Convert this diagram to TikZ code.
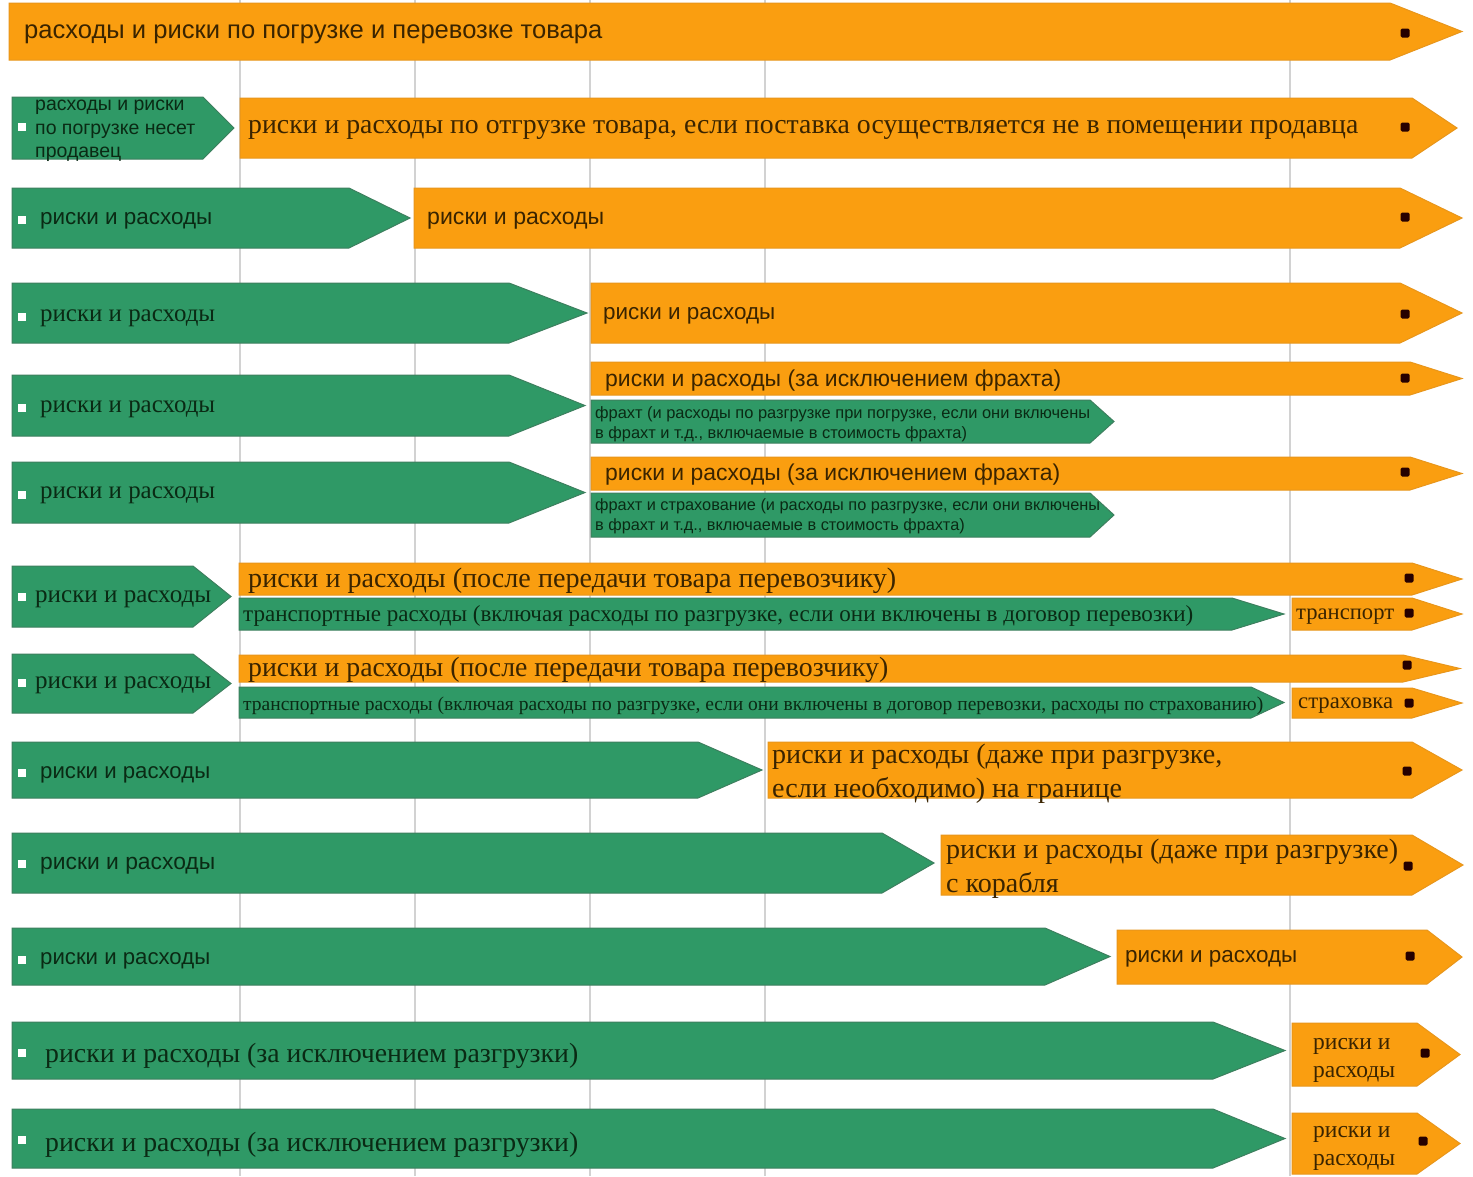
\documentclass[tikz,border=0pt]{standalone}
\usepackage{fontspec}
\setmainfont{Liberation Serif}
\setsansfont{Liberation Sans}
\usepackage{graphicx}
\definecolor{orfill}{HTML}{FA9E10}
\definecolor{orline}{HTML}{E8961C}
\definecolor{grfill}{HTML}{2F9966}
\definecolor{grline}{HTML}{3D7F5E}
\definecolor{ortext}{HTML}{3A2400}
\definecolor{grtext}{HTML}{0A2A14}
\tikzset{
  orbox/.style={fill=orfill,draw=orline,line width=1pt},
  grbox/.style={fill=grfill,draw=grline,line width=1pt},
  gridln/.style={draw=gray!35,line width=1.5pt},
  dotmark/.style={fill=black!85!red,rounded corners=1.5pt},
  bullet/.style={fill=white},
}
% #1 style, #2 left x, #3 top y, #4 bottom y, #5 body end x, #6 tip x
\newcommand\Arw[6]{\filldraw[#1] (#2,#3) -- (#5,#3) -- (#6,{(#3+#4)/2}) -- (#5,#4) -- (#2,#4) -- cycle;}
% #1 name, #2 x, #3 y, #4 width, #5 colour, #6 font, #7 text
\newcommand\Txt[7]{\node[anchor=west,inner sep=0pt,yshift=-2.5pt,text=#5,font=#6] (#1) at (#2,#3) {\resizebox{#4pt}{!}{#7}};}
\newcommand\Two[2]{\begin{tabular}{@{}l@{}}#1\\#2\end{tabular}}
\newcommand\Three[3]{\begin{tabular}{@{}l@{}}#1\\#2\\#3\end{tabular}}
\newcommand\Dot[2]{\fill[dotmark] ({#1-4.5},{#2-4.5}) rectangle ({#1+4.5},{#2+4.5});}
\newcommand\Bul[1]{\fill[bullet] (18,{#1-4}) rectangle (26,{#1+4});}
\begin{document}
\begin{tikzpicture}[x=1pt,y=-1pt]
\useasboundingbox (0,0) rectangle (1473,1176);
\fill[white] (0,0) rectangle (1473,1176);
% grid lines
\foreach \gx in {240,415,590,765,1290} {\draw[gridln] (\gx,0) -- (\gx,1176);}
% Row 1
\Arw{orbox}{9}{3}{60}{1390}{1462}
\Txt{t1}{24}{32}{578}{ortext}{\sffamily}{расходы и риски по погрузке и перевозке товара}
\Dot{1405}{33}
% Row 2
\Arw{grbox}{12}{97}{159}{203}{234}
\Txt{t2g}{35}{127}{160}{grtext}{\sffamily}{\Three{расходы и риски}{по погрузке несет}{продавец}}
\Bul{127}
\Arw{orbox}{240}{98}{158}{1412}{1457}
\Txt{t2o}{248}{127}{1110}{ortext}{\rmfamily}{риски и расходы по отгрузке товара, если поставка осуществляется не в помещении продавца}
\Dot{1405}{127}
% Row 3
\Arw{grbox}{12}{188}{248}{349}{410}
\Txt{t3g}{40}{218}{172}{grtext}{\sffamily}{риски и расходы}
\Bul{220}
\Arw{orbox}{414}{188}{248}{1400}{1462}
\Txt{t3o}{427}{218}{177}{ortext}{\sffamily}{риски и расходы}
\Dot{1405}{217}
% Row 4
\Arw{grbox}{12}{283}{343}{509}{587}
\Txt{t4g}{40}{316}{175}{grtext}{\rmfamily}{риски и расходы}
\Bul{317}
\Arw{orbox}{591}{283}{343}{1400}{1462}
\Txt{t4o}{603}{313}{172}{ortext}{\sffamily}{риски и расходы}
\Dot{1405}{314}
% Row 5
\Arw{grbox}{12}{375}{436}{509}{585}
\Txt{t5g}{40}{407}{175}{grtext}{\rmfamily}{риски и расходы}
\Bul{408}
\Arw{orbox}{591}{362}{395}{1410}{1462}
\Txt{t5o}{605}{378}{456}{ortext}{\sffamily}{риски и расходы (за исключением фрахта)}
\Dot{1405}{378}
\Arw{grbox}{591}{400}{443}{1090}{1114}
\Txt{t5s}{595}{422}{495}{grtext}{\sffamily}{\Two{фрахт (и расходы по разгрузке при погрузке, если они включены}{в фрахт и т.д., включаемые в стоимость фрахта)}}
% Row 6
\Arw{grbox}{12}{462}{523}{509}{585}
\Txt{t6g}{40}{493}{175}{grtext}{\rmfamily}{риски и расходы}
\Bul{495}
\Arw{orbox}{591}{457}{490}{1410}{1462}
\Txt{t6o}{605}{472}{455}{ortext}{\sffamily}{риски и расходы (за исключением фрахта)}
\Dot{1405}{472}
\Arw{grbox}{591}{493}{537}{1090}{1114}
\Txt{t6s}{595}{514}{505}{grtext}{\sffamily}{\Two{фрахт и страхование (и расходы по разгрузке, если они включены}{в фрахт и т.д., включаемые в стоимость фрахта)}}
% Row 7
\Arw{grbox}{12}{566}{627}{193}{231}
\Txt{t7g}{35}{597}{176}{grtext}{\rmfamily}{риски и расходы}
\Bul{597}
\Arw{orbox}{239}{563}{595}{1412}{1462}
\Txt{t7o}{248}{578}{648}{ortext}{\rmfamily}{риски и расходы (после передачи товара перевозчику)}
\Dot{1409}{578}
\Arw{grbox}{239}{598}{630}{1232}{1284}
\Txt{t7l}{243}{613}{950}{grtext}{\rmfamily}{транспортные расходы (включая расходы по разгрузке, если они включены в договор перевозки)}
\Arw{orbox}{1292}{598}{630}{1412}{1462}
\Txt{t7s}{1296}{614}{98}{ortext}{\rmfamily}{транспорт}
\Dot{1409}{613}
% Row 8
\Arw{grbox}{12}{654}{713}{193}{231}
\Txt{t8g}{35}{683}{176}{grtext}{\rmfamily}{риски и расходы}
\Bul{683}
\Arw{orbox}{239}{655}{682}{1403}{1460}
\Txt{t8o}{248}{667}{640}{ortext}{\rmfamily}{риски и расходы (после передачи товара перевозчику)}
\Dot{1407}{665}
\Arw{grbox}{239}{687}{718}{1251}{1284}
\Txt{t8l}{243}{703}{1020}{grtext}{\rmfamily}{транспортные расходы (включая расходы по разгрузке, если они включены в договор перевозки, расходы по страхованию)}
\Arw{orbox}{1292}{688}{718}{1412}{1462}
\Txt{t8s}{1298}{703}{95}{ortext}{\rmfamily}{страховка}
\Dot{1409}{703}
% Row 9
\Arw{grbox}{12}{742}{798}{698}{762}
\Txt{t9g}{40}{772}{170}{grtext}{\sffamily}{риски и расходы}
\Bul{773}
\Arw{orbox}{768}{742}{798}{1412}{1462}
\Txt{t9o}{772}{771}{450}{ortext}{\rmfamily}{\Two{риски и расходы (даже при разгрузке,}{если необходимо) на границе}}
\Dot{1407}{771}
% Row 10
\Arw{grbox}{12}{833}{893}{882}{934}
\Txt{t10g}{40}{863}{175}{grtext}{\sffamily}{риски и расходы}
\Bul{864}
\Arw{orbox}{941}{835}{895}{1412}{1463}
\Txt{t10o}{946}{866}{452}{ortext}{\rmfamily}{\Two{риски и расходы (даже при разгрузке)}{с корабля}}
\Dot{1408}{866}
% Row 11
\Arw{grbox}{12}{928}{985}{1045}{1110}
\Txt{t11g}{40}{958}{170}{grtext}{\sffamily}{риски и расходы}
\Bul{960}
\Arw{orbox}{1117}{930}{984}{1427}{1462}
\Txt{t11o}{1125}{956}{172}{ortext}{\sffamily}{риски и расходы}
\Dot{1410}{956}
% Row 12
\Arw{grbox}{12}{1022}{1079}{1213}{1285}
\Txt{t12g}{45}{1053}{533}{grtext}{\rmfamily}{риски и расходы (за исключением разгрузки)}
\Bul{1053}
\Arw{orbox}{1292}{1023}{1086}{1417}{1460}
\Txt{t12o}{1313}{1055}{82}{ortext}{\rmfamily}{\Two{риски и}{расходы}}
\Dot{1425}{1053}
% Row 13
\Arw{grbox}{12}{1109}{1168}{1213}{1285}
\Txt{t13g}{45}{1142}{533}{grtext}{\rmfamily}{риски и расходы (за исключением разгрузки)}
\Bul{1140}
\Arw{orbox}{1292}{1113}{1174}{1417}{1460}
\Txt{t13o}{1313}{1143}{82}{ortext}{\rmfamily}{\Two{риски и}{расходы}}
\Dot{1423}{1141}
\end{tikzpicture}
\end{document}
